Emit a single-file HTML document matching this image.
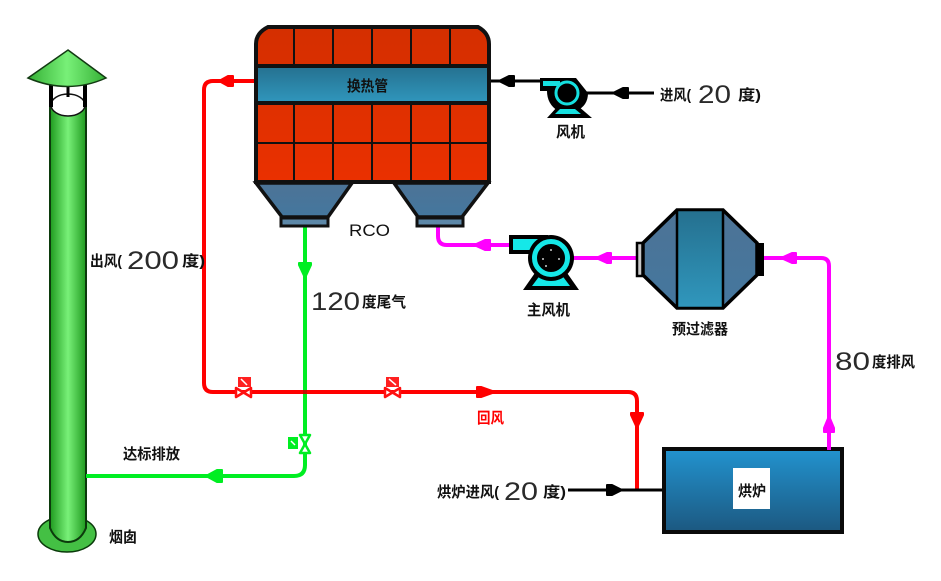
<!DOCTYPE html>
<html><head><meta charset="utf-8"><style>
html,body{margin:0;padding:0;background:#fff}
svg{display:block}
text{font-family:"Liberation Sans","Noto Sans CJK SC",sans-serif;fill:#111}
.c{font-size:15px;font-weight:700}
.d{font-size:25px;font-weight:400;fill:#2a2a2a}
</style></head><body>
<svg width="941" height="581" viewBox="0 0 941 581" xmlns="http://www.w3.org/2000/svg">
<defs>
<linearGradient id="g" x1="0" x2="1" y1="0" y2="0"><stop offset="0" stop-color="#1f9a1f"/><stop offset=".5" stop-color="#78f078"/><stop offset="1" stop-color="#1f9a1f"/></linearGradient>
<linearGradient id="cap" x1="0" x2="1" y1="0" y2="0"><stop offset="0" stop-color="#35b035"/><stop offset=".5" stop-color="#78f078"/><stop offset="1" stop-color="#35b035"/></linearGradient>
<linearGradient id="band" x1="0" x2="0" y1="0" y2="1"><stop offset="0" stop-color="#25708f"/><stop offset="1" stop-color="#3097bd"/></linearGradient>
<linearGradient id="hop" x1="0" x2="0" y1="0" y2="1"><stop offset="0" stop-color="#4d7396"/><stop offset="1" stop-color="#44779e"/></linearGradient>
<linearGradient id="fur" x1="0" x2="0" y1="0" y2="1"><stop offset="0" stop-color="#2293cf"/><stop offset="1" stop-color="#1c5880"/></linearGradient>
<linearGradient id="red" x1="0" x2="0" y1="0" y2="1"><stop offset="0" stop-color="#d42f00"/><stop offset="1" stop-color="#ea3000"/></linearGradient>
</defs>

<!-- chimney -->
<ellipse cx="67" cy="534" rx="29" ry="18" fill="#44c044" stroke="#0a3a0a" stroke-width="1.5"/>
<path d="M50 104V528Q56 542 68 542Q80 542 86 528V104Z" fill="url(#g)" stroke="#0c3a0c" stroke-width="2"/>
<ellipse cx="68" cy="105" rx="17" ry="11" fill="#fff" stroke="#111" stroke-width="1.500"/>
<rect x="49" y="84" width="4" height="23" fill="#000"/><rect x="83" y="84" width="4" height="23" fill="#000"/><rect x="66.500" y="85" width="3" height="12" fill="#000"/>
<path d="M68 50L106 78Q68 95 28 78Z" fill="url(#cap)" stroke="#123a12" stroke-width="1.500"/>

<!-- pipes -->
<g fill="none" stroke-linejoin="round">
<path d="M438 226V236Q438 245 447 245H512M572 258H640M762 258H821Q829 258 829 266V448" stroke="#ff00ff" stroke-width="4"/>
<path d="M305 227V465Q305 476 294 476H86" stroke="#00ee22" stroke-width="4"/>
<path d="M256 81H213Q204 81 204 90V383Q204 392 213 392H628Q637 392 637 401V490" stroke="#ff0000" stroke-width="4"/>
<path d="M490 81H541M585 93H654M568 490H662" stroke="#000" stroke-width="3"/>
</g>
<rect x="303" y="390" width="4" height="4" fill="#c01000"/>
<!-- arrows -->
<g stroke-linejoin="round" stroke-width="2">
<path d="M219 81L228 76H233V86H228Z" fill="#ff0000" stroke="#ff0000"/>
<path d="M495 392L481 387H477V397H481Z" fill="#ff0000" stroke="#ff0000"/>
<path d="M637 428L631 415V413H643V415Z" fill="#ff0000" stroke="#ff0000"/>
<path d="M305 278L299 265V263H311V265Z" fill="#00ee22" stroke="#00ee22"/>
<path d="M206 476L217 470H222V482H217Z" fill="#00ee22" stroke="#00ee22"/>
<path d="M474 245L485 240H490V250H485Z" fill="#ff00ff" stroke="#ff00ff"/>
<path d="M596 258L607 253H611V263H607Z" fill="#ff00ff" stroke="#ff00ff"/>
<path d="M781 258L792 253H796V263H792Z" fill="#ff00ff" stroke="#ff00ff"/>
<path d="M829 416L824 428V432H834V428Z" fill="#ff00ff" stroke="#ff00ff"/>
<path d="M499 81L509 76H514V86H509Z" fill="#000" stroke="#000"/>
<path d="M613 93L623 88H628V98H623Z" fill="#000" stroke="#000"/>
<path d="M622 490L612 485H607V495H612Z" fill="#000" stroke="#000"/>
</g>

<!-- RCO -->
<path d="M256 44Q256 33 268 27H478Q489 33 489 44V182H256Z" fill="url(#red)" stroke="#111" stroke-width="4"/>
<path d="M294 28V182M333 28V182M372 28V182M411 28V182M450 28V182M256 143H489" stroke="#111" stroke-width="2" fill="none"/>
<rect x="256" y="66" width="233" height="37" fill="url(#band)" stroke="#111" stroke-width="4"/>
<path d="M256 183H352L328 217H282Z" fill="url(#hop)" stroke="#111" stroke-width="3.500"/>
<rect x="281" y="218" width="47" height="8" fill="#5d88a8" stroke="#111" stroke-width="3"/>
<path d="M394 183H488L462 217H418Z" fill="url(#hop)" stroke="#111" stroke-width="3.500"/>
<rect x="417" y="218" width="46" height="8" fill="#5d88a8" stroke="#111" stroke-width="3"/>

<!-- small fan -->
<path d="M540 78H576L588 93Q588 106 576 111H558Q547 104 547 91H540Z" fill="#000"/>
<rect x="543" y="81" width="17" height="5" fill="#15e0e0"/>
<path d="M547 118L558 106H578L592 118Z" fill="#000"/>
<path d="M555 114L560 109H575L581 114Z" fill="#15e0e0"/>
<circle cx="567" cy="93" r="11" fill="#000" stroke="#15e0e0" stroke-width="3"/>

<!-- main fan -->
<path d="M509 235H548V254H509Z" fill="#000"/>
<rect x="513" y="239" width="28" height="11" fill="#15e8e8"/>
<path d="M523 290L537 270H565L579 290Z" fill="#000"/>
<path d="M532 286L541 274H561L570 286Z" fill="#15e8e8"/>
<circle cx="551" cy="258" r="23" fill="#000"/>
<circle cx="551" cy="258" r="16.500" fill="#000" stroke="#15e8e8" stroke-width="5"/>
<g fill="#ccc"><circle cx="551" cy="250" r="1"/><circle cx="543" cy="259" r="1"/><circle cx="559" cy="259" r="1"/><circle cx="546" cy="266" r="1"/></g>

<!-- filter -->
<rect x="637" y="243" width="7" height="33" fill="#c8c8c8" stroke="#000" stroke-width="2.500"/>
<rect x="756" y="243" width="8" height="33" fill="#000"/>
<path d="M643 243L677 210H723L757 243V275L723 308H677L643 275Z" fill="url(#hop)" stroke="#000" stroke-width="3.500"/>
<rect x="677" y="210" width="46" height="98" fill="url(#band)" stroke="#000" stroke-width="2.500"/>

<!-- furnace -->
<rect x="664" y="449" width="178" height="83" fill="url(#fur)" stroke="#0a0a0a" stroke-width="4"/>
<rect x="733" y="468" width="37" height="41" fill="#fff"/>
<path d="M829 430V450" stroke="#ff00ff" stroke-width="4"/>

<!-- valves -->
<g fill="#fff" stroke="#ff1010" stroke-width="2.500" stroke-linejoin="round">
<path d="M236 388L251 397V388L236 397Z"/>
<path d="M385 388L400 397V388L385 397Z"/>
</g>
<g fill="#ff2020">
<rect x="238" y="377" width="13" height="10"/><rect x="386" y="377" width="13" height="10"/>
</g>
<path d="M241 379L247 385M389 379L396 385" stroke="#fff" stroke-width="1.500"/>
<path d="M300 435H310L300 453H310Z" fill="#fff" stroke="#00ee22" stroke-width="2.500" stroke-linejoin="round"/>
<rect x="288" y="437" width="10" height="12" fill="#00ee22"/>
<path d="M291 441L295 445" stroke="#fff" stroke-width="1.500"/>

<!-- labels -->
<text x="347" y="91" class="c" textLength="41" lengthAdjust="spacingAndGlyphs">换热管</text>
<text x="556" y="137" class="c" textLength="29" lengthAdjust="spacingAndGlyphs">风机</text>
<text x="660" y="100" class="c" textLength="31" lengthAdjust="spacingAndGlyphs">进风(</text>
<text x="698" y="103" class="d" textLength="33" lengthAdjust="spacingAndGlyphs">20</text>
<text x="738" y="100" class="c" textLength="23" lengthAdjust="spacingAndGlyphs">度)</text>
<text x="349" y="236" font-size="17" textLength="41" lengthAdjust="spacingAndGlyphs">RCO</text>
<text x="527" y="315" class="c" textLength="43" lengthAdjust="spacingAndGlyphs">主风机</text>
<text x="672" y="334" class="c" textLength="56" lengthAdjust="spacingAndGlyphs">预过滤器</text>
<text x="90" y="266" class="c" textLength="32" lengthAdjust="spacingAndGlyphs">出风(</text>
<text x="127" y="269" class="d" textLength="52" lengthAdjust="spacingAndGlyphs">200</text>
<text x="182" y="266" class="c" textLength="23" lengthAdjust="spacingAndGlyphs">度)</text>
<text x="311" y="310" class="d" textLength="49" lengthAdjust="spacingAndGlyphs">120</text>
<text x="362" y="307" class="c" textLength="44" lengthAdjust="spacingAndGlyphs">度尾气</text>
<text x="835" y="370" class="d" textLength="35" lengthAdjust="spacingAndGlyphs">80</text>
<text x="872" y="367" class="c" textLength="43" lengthAdjust="spacingAndGlyphs">度排风</text>
<text x="477" y="423" class="c" style="fill:#ff0000" textLength="27" lengthAdjust="spacingAndGlyphs">回风</text>
<text x="123" y="459" class="c" textLength="57" lengthAdjust="spacingAndGlyphs">达标排放</text>
<text x="109" y="542" class="c" textLength="28" lengthAdjust="spacingAndGlyphs">烟囱</text>
<text x="437" y="497" class="c" textLength="62" lengthAdjust="spacingAndGlyphs">烘炉进风(</text>
<text x="504" y="500" class="d" textLength="34" lengthAdjust="spacingAndGlyphs">20</text>
<text x="543" y="497" class="c" textLength="23" lengthAdjust="spacingAndGlyphs">度)</text>
<text x="738" y="496" class="c" textLength="28" lengthAdjust="spacingAndGlyphs">烘炉</text>
</svg>
</body></html>
